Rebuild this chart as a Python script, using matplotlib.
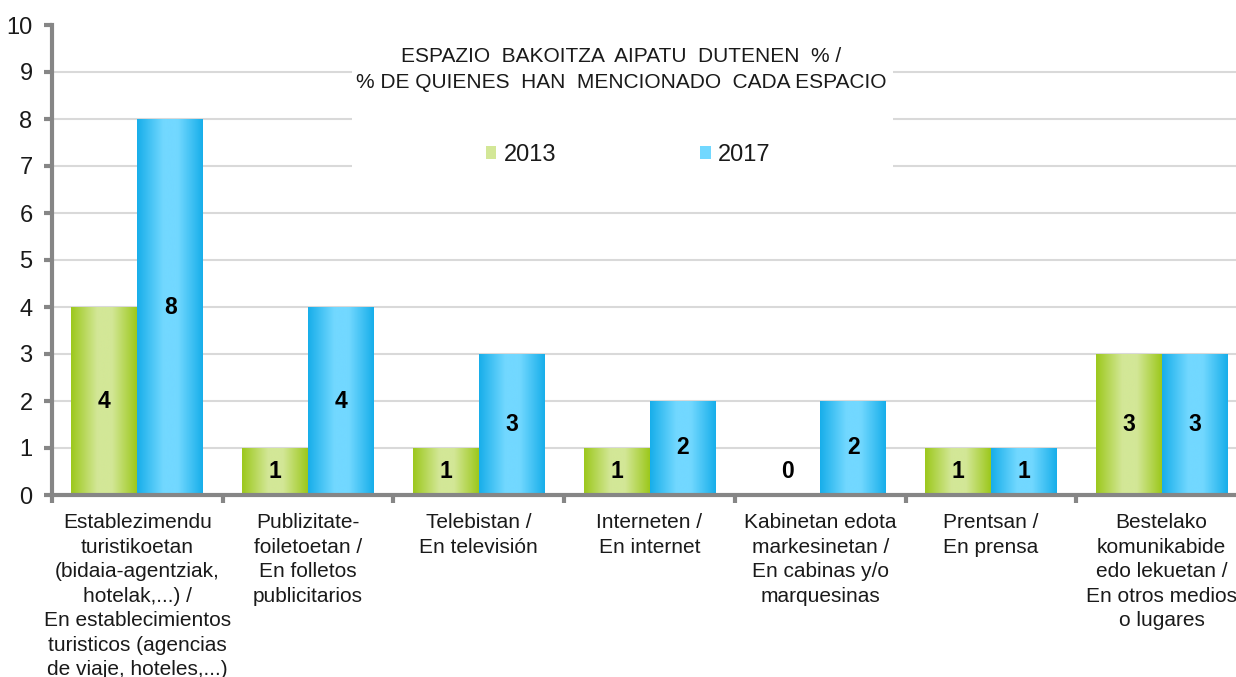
import numpy as np
import matplotlib
matplotlib.use("Agg")
import matplotlib.pyplot as plt
from matplotlib.colors import LinearSegmentedColormap
from matplotlib.patches import Rectangle, Patch

plt.rcParams['font.family'] = ['Liberation Sans', 'DejaVu Sans']

categories = [
    "Establezimendu\nturistikoetan\n(bidaia-agentziak,\nhotelak,...) /\nEn establecimientos\nturisticos (agencias\nde viaje, hoteles,...)",
    "Publizitate-\nfoiletoetan /\nEn folletos\npublicitarios",
    "Telebistan /\nEn televisión",
    "Interneten /\nEn internet",
    "Kabinetan edota\nmarkesinetan /\nEn cabinas y/o\nmarquesinas",
    "Prentsan /\nEn prensa",
    "Bestelako\nkomunikabide\nedo lekuetan /\nEn otros medios\no lugares",
]
series_names = ["2013", "2017"]
values_2013 = [4, 1, 1, 1, 0, 1, 3]
values_2017 = [8, 4, 3, 2, 2, 1, 3]
title_lines = ["ESPAZIO  BAKOITZA  AIPATU  DUTENEN  % /",
               "% DE QUIENES  HAN  MENCIONADO  CADA ESPACIO"]

green_dark, green_light = "#9cc81c", "#d3e797"
blue_dark, blue_light = "#17aeea", "#72d8ff"
grid_c = "#d9d9d9"
axis_c = "#868686"
text_c = "#1a1a1a"

W, H = 1236, 677
fig = plt.figure(figsize=(W / 100, H / 100), dpi=100)
ax = fig.add_axes([52 / W, (H - 495) / H, (1247 - 52) / W, 470 / H])

x = np.arange(len(categories))
bw = 0.386

def grad_cmap(dark, light):
    return LinearSegmentedColormap.from_list(
        "g", [(0, dark), (0.4, light), (0.62, light), (1, dark)])

cm_g = grad_cmap(green_dark, green_light)
cm_b = grad_cmap(blue_dark, blue_light)
grad = np.linspace(0, 1, 256).reshape(1, -1)

bars_g = ax.bar(x - bw / 2, values_2013, bw, color=green_dark, zorder=3,
                linewidth=0, label=series_names[0])
bars_b = ax.bar(x + bw / 2, values_2017, bw, color=blue_dark, zorder=3,
                linewidth=0, label=series_names[1])

for bars, cm in ((bars_g, cm_g), (bars_b, cm_b)):
    for b in bars:
        h = b.get_height()
        if h <= 0:
            continue
        x0 = b.get_x()
        im = ax.imshow(grad, cmap=cm, aspect="auto", extent=[x0, x0 + b.get_width(), 0, h],
                       zorder=4, interpolation="bicubic")
        im.set_clip_path(b)

for bars, vals in ((bars_g, values_2013), (bars_b, values_2017)):
    for b, v in zip(bars, vals):
        ax.text(b.get_x() + b.get_width() / 2, max(v / 2, 0.5), str(v),
                ha="center", va="center", fontsize=16.5, fontweight="bold",
                color="black", zorder=6)

ax.set_xlim(-0.5, len(categories) - 0.5)
ax.set_ylim(0, 10)
ax.set_yticks(range(0, 11))
ax.set_yticklabels([str(i) for i in range(0, 11)], fontsize=17, color=text_c)
ax.yaxis.grid(True, color=grid_c, linewidth=1.5, zorder=0)
ax.set_axisbelow(True)
gl = ax.get_ygridlines()
gl[-1].set_visible(False)
gl[0].set_visible(False)

ax.set_xticks(x)
ax.set_xticklabels(categories, fontsize=15, color=text_c, linespacing=1.37)
ax.set_xticks(np.arange(len(categories) + 1) - 0.5, minor=True)
ax.tick_params(axis="x", which="major", length=0, pad=13)
ax.tick_params(axis="x", which="minor", length=6, width=3, color=axis_c, direction="out")
ax.tick_params(axis="y", length=6, width=3, color=axis_c, direction="out", pad=8)

for s in ("top", "right"):
    ax.spines[s].set_visible(False)
for s in ("left", "bottom"):
    ax.spines[s].set_color(axis_c)
    ax.spines[s].set_linewidth(3)
    ax.spines[s].set_zorder(7)

# title box
tb = Rectangle((352 / W, (H - 172) / H), (893 - 352) / W, 132 / H,
               transform=fig.transFigure, facecolor="white", edgecolor="none", zorder=2)
fig.patches.append(tb)
fig.text(621 / W, 1 - 57 / H, title_lines[0], ha="center", va="center", fontsize=15, color=text_c, zorder=5)
fig.text(621 / W, 1 - 83 / H, title_lines[1], ha="center", va="center", fontsize=15, color=text_c, zorder=5)

handles = [Patch(facecolor=cm_g(0.5), edgecolor="none"), Patch(facecolor=cm_b(0.5), edgecolor="none")]
leg = fig.legend(handles, series_names, loc="center", bbox_to_anchor=(628 / W, 1 - 155 / H),
                 ncol=2, frameon=False, fontsize=17, handlelength=0.45, handleheight=0.45,
                 handletextpad=0.3, columnspacing=6.1)
for t in leg.get_texts():
    t.set_color(text_c)

fig.savefig("out.png", dpi=100)
